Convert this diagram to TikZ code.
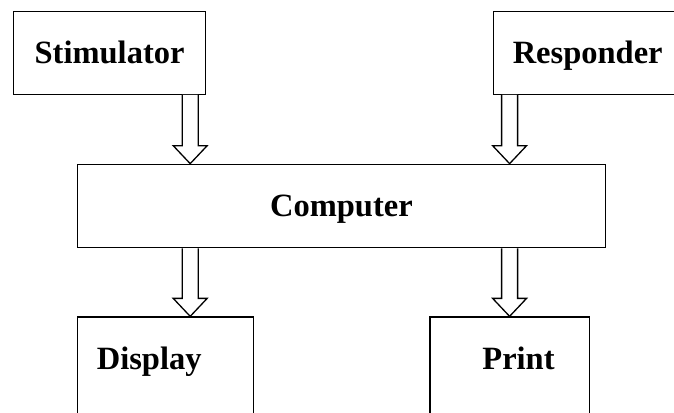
\documentclass[tikz,border=0pt]{standalone}
\usepackage{fontspec}
\setmainfont{Liberation Serif}
\usetikzlibrary{calc}
\newcommand\lbl[1]{{\fontsize{32.5}{32.5}\selectfont\bfseries #1}}
\newcommand\harrow[3]{%
  \draw[arr] ({#3-8},0 |- #1.south) -- ($({#3},0 |- #2.north)+(-8,-18)$)
    -- ($({#3},0 |- #2.north)+(-17,-18)$) -- ({#3},0 |- #2.north)
    -- ($({#3},0 |- #2.north)+(17,-18)$) -- ($({#3},0 |- #2.north)+(8,-18)$)
    -- ({#3+8},0 |- #1.south);}
\begin{document}
\begin{tikzpicture}[x=1pt,y=-1pt,
  box/.style={draw, line width=1.3pt, inner sep=0pt},
  txt/.style={inner sep=0pt, anchor=base},
  arr/.style={draw, line width=1.3pt, fill=white, line join=miter}]
\useasboundingbox (0,0) rectangle (674,412);
\clip (0,0) rectangle (674,412);
\fill[white] (0,0) rectangle (674,412);
\node[box, minimum width=192.2pt, minimum height=83pt] (stim) at (109.4,52.8) {};
\node[box, minimum width=190pt, minimum height=83pt] (resp) at (588.5,52.8) {};
\node[box, minimum width=528.4pt, minimum height=83.4pt] (comp) at (341.6,206) {};
\node[box, minimum width=175.8pt, minimum height=120pt] (disp) at (165.3,377) {};
\node[box, minimum width=159.8pt, minimum height=120pt] (prnt) at (509.9,377) {};
\node[txt] (stimt) at (109.6,63.3) {\lbl{Stimulator}};
\node[txt] (respt) at (587.7,63.3) {\lbl{Responder}};
\node[txt] (compt) at (341.4,216.7) {\lbl{Computer}};
\node[txt] (dispt) at (149.2,369.3) {\lbl{Display}};
\node[txt] (prntt) at (518.5,369.3) {\lbl{Print}};
\harrow{stim}{comp}{190.2}
\harrow{resp}{comp}{509.6}
\harrow{comp}{disp}{190.2}
\harrow{comp}{prnt}{509.6}
\end{tikzpicture}
\end{document}
